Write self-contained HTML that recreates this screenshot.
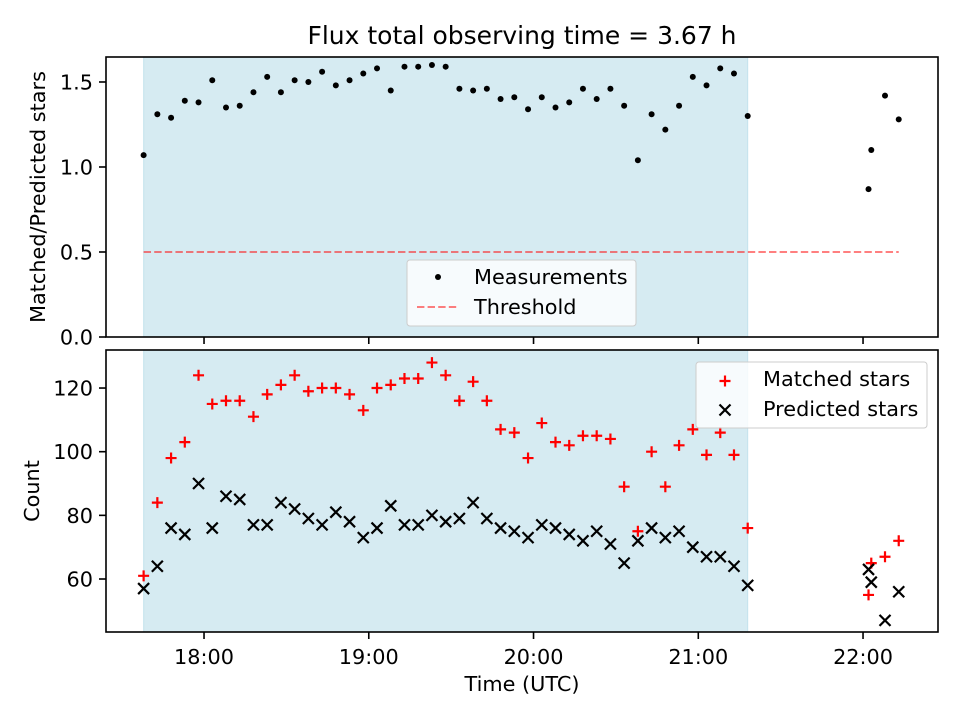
<!DOCTYPE html>
<html><head><meta charset="utf-8"><style>
body{margin:0;background:#fff;}
svg{display:block;font-family:"DejaVu Sans","Liberation Sans",sans-serif;}
</style></head>
<body>
<svg id="chart" width="960" height="720" viewBox="0 0 960 720" xmlns="http://www.w3.org/2000/svg"></svg>
<script>
const times = ["17:38","17:43","17:48","17:53","17:58","18:03","18:08","18:13","18:18","18:23","18:28","18:33","18:38","18:43","18:48","18:53","18:58","19:03","19:08","19:13","19:18","19:23","19:28","19:33","19:38","19:43","19:48","19:53","19:58","20:03","20:08","20:13","20:18","20:23","20:28","20:33","20:38","20:43","20:48","20:53","20:58","21:03","21:08","21:13","21:18","22:02","22:03","22:08","22:13"];
const ratio = [1.07,1.31,1.29,1.39,1.38,1.51,1.35,1.36,1.44,1.53,1.44,1.51,1.50,1.56,1.48,1.51,1.55,1.58,1.45,1.59,1.59,1.60,1.59,1.46,1.45,1.46,1.40,1.41,1.34,1.41,1.35,1.38,1.46,1.40,1.46,1.36,1.04,1.31,1.22,1.36,1.53,1.48,1.58,1.55,1.30,0.87,1.10,1.42,1.28];
const matched = [61,84,98,103,124,115,116,116,111,118,121,124,119,120,120,118,113,120,121,123,123,128,124,116,122,116,107,106,98,109,103,102,105,105,104,89,75,100,89,102,107,99,106,99,76,55,65,67,72];
const predicted = [57,64,76,74,90,76,86,85,77,77,84,82,79,77,81,78,73,76,83,77,77,80,78,79,84,79,76,75,73,77,76,74,72,75,71,65,72,76,73,75,70,67,67,64,58,63,59,47,56];
const threshold = 0.5;
const spanStart = "17:38", spanEnd = "21:18", thrEnd = "22:13";
const xTicks = ["18:00","19:00","20:00","21:00","22:00"];
const topTicks = [0.0,0.5,1.0,1.5];
const botTicks = [60,80,100,120];

const NS="http://www.w3.org/2000/svg";
const svg=document.getElementById('chart');
function el(tag,attrs,parent){const e=document.createElementNS(NS,tag);for(const k in attrs)e.setAttribute(k,attrs[k]);(parent||svg).appendChild(e);return e;}
function hrs(s){const p=s.split(':');return +p[0]+(+p[1])/60;}
const FS=20.8;
const L=106,R=938;
const xMin=17.405,xMax=22.455;
function X(t){return L+(hrs(t)-xMin)/(xMax-xMin)*(R-L);}
const T1=57,B1=337,yMax1=1.647;
function Y1(v){return B1-v/yMax1*(B1-T1);}
const T2=350,B2=632,yLo2=43.35,yHi2=131.95;
function Y2(v){return B2-(v-yLo2)/(yHi2-yLo2)*(B2-T2);}

let t=el('text',{x:522,y:44,'font-size':25,'text-anchor':'middle'});t.textContent="Flux total observing time = 3.67 h";


function panel(T,B,name){
  const g=el('g',{});
  
  
  const sp=el('rect',{x:X(spanStart),y:T,width:X(spanEnd)-X(spanStart),height:B-T,fill:'#add8e6','fill-opacity':0.5,stroke:'#add8e6','stroke-opacity':0.6},g);
  
  
  return g;
}
const g1=panel(T1,B1,'top-panel');
const g2=panel(T2,B2,'bottom-panel');

const th=el('line',{x1:X(spanStart),x2:X(thrEnd),y1:Y1(threshold),y2:Y1(threshold),stroke:'red','stroke-opacity':0.5,'stroke-width':2,'stroke-dasharray':'7.4,3.2'},g1);



ratio.forEach((v,i)=>{
  const c=el('circle',{cx:X(times[i]),cy:Y1(v),r:3,fill:'#000'},g1);
  
  
});
matched.forEach((v,i)=>{
  const x=X(times[i]),y=Y2(v);
  const p=el('path',{d:`M${x-5.5},${y}H${x+5.5}M${x},${y-5.5}V${y+5.5}`,stroke:'red','stroke-width':2.2},g2);
  
  
});
predicted.forEach((v,i)=>{
  const x=X(times[i]),y=Y2(v);
  const p=el('path',{d:`M${x-5.5},${y-5.5}L${x+5.5},${y+5.5}M${x-5.5},${y+5.5}L${x+5.5},${y-5.5}`,stroke:'#000','stroke-width':2.2},g2);
  
  
});

function frame(T,B,ticks,Y,fmt,name){
  const f=el('rect',{x:L,y:T,width:R-L,height:B-T,fill:'none',stroke:'#000','stroke-width':1.6});
  
  
  ticks.forEach(v=>{
    const y=Y(v);
    el('line',{x1:L-7,x2:L,y1:y,y2:y,stroke:'#000','stroke-width':1.6});
    const tx=el('text',{x:L-13,y:y+7.5,'font-size':FS,'text-anchor':'end'});
    tx.textContent=fmt(v);
    
    
  });
  xTicks.forEach(s=>{
    const x=X(s);
    el('line',{x1:x,x2:x,y1:B,y2:B+7,stroke:'#000','stroke-width':1.6});
  });
}
frame(T1,B1,topTicks,Y1,v=>v.toFixed(1),'top');
frame(T2,B2,botTicks,Y2,v=>String(v),'bottom');
xTicks.forEach(s=>{
  const tx=el('text',{x:X(s),y:B2+32,'font-size':FS,'text-anchor':'middle'});
  tx.textContent=s;
  
  
});
let xl=el('text',{x:522,y:691,'font-size':FS,'text-anchor':'middle'});xl.textContent="Time (UTC)";

let yl1=el('text',{x:0,y:0,'font-size':FS,'text-anchor':'middle',transform:`translate(45,197) rotate(-90)`});yl1.textContent="Matched/Predicted stars";

let yl2=el('text',{x:0,y:0,'font-size':FS,'text-anchor':'middle',transform:`translate(39,491) rotate(-90)`});yl2.textContent="Count";


const lg1=el('g',{});


el('rect',{x:407,y:260,width:229,height:66,rx:3,fill:'#fff','fill-opacity':0.8,stroke:'#ccc'},lg1);
el('circle',{cx:438,cy:277,r:3,fill:'#000'},lg1);
let a=el('text',{x:474,y:284,'font-size':FS},lg1);a.textContent="Measurements";

el('line',{x1:417,x2:459,y1:307,y2:307,stroke:'red','stroke-opacity':0.5,'stroke-width':2,'stroke-dasharray':'7.4,3.2'},lg1);
a=el('text',{x:474,y:314,'font-size':FS},lg1);a.textContent="Threshold";


const lg2=el('g',{});


el('rect',{x:696,y:362,width:231,height:66,rx:3,fill:'#fff','fill-opacity':0.8,stroke:'#ccc'},lg2);
el('path',{d:'M719.5,381H730.5M725,375.5V386.5',stroke:'red','stroke-width':2.2},lg2);
a=el('text',{x:763,y:386,'font-size':FS},lg2);a.textContent="Matched stars";

el('path',{d:'M719.5,404.5L730.5,415.5M719.5,415.5L730.5,404.5',stroke:'#000','stroke-width':2.2},lg2);
a=el('text',{x:763,y:416,'font-size':FS},lg2);a.textContent="Predicted stars";

</script>
</body></html>
